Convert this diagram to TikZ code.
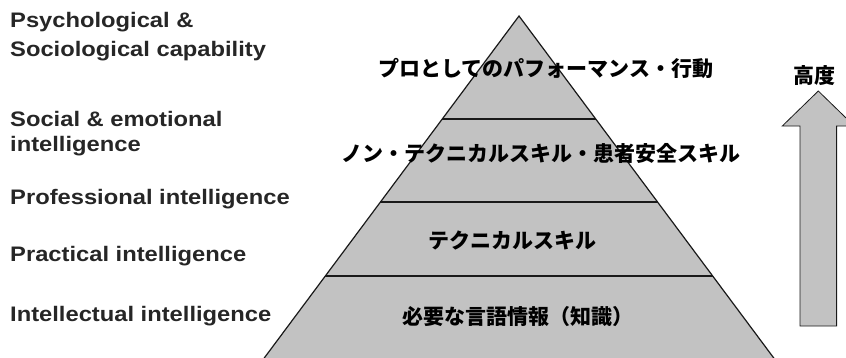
\documentclass[tikz,border=0pt]{standalone}
\usepackage{fontspec}
\setmainfont{Liberation Sans}
\newfontfamily\latf[FakeStretch=1.13]{Liberation Sans}
\newfontfamily\cjk{Noto Sans CJK JP}
\definecolor{pyrfill}{gray}{0.76}
\definecolor{txtgray}{gray}{0.15}
\begin{document}
\begin{tikzpicture}[x=1pt,y=-1pt,
  lefttext/.style={anchor=base west,inner sep=0pt,font=\latf\bfseries\fontsize{21}{21}\selectfont,text=txtgray},
  jtext/.style={inner sep=0pt,font=\cjk\bfseries\fontsize{21}{21}\selectfont,text=black},
  divider/.style={line width=1.6pt,black!90},
  outline/.style={line width=1.2pt,black!90}]
\useasboundingbox (0,0) rectangle (846,357);
\clip (0,0) rectangle (846,357);
% pyramid
\coordinate (apex) at (519,16);
\coordinate (bl) at (255.3,370);
\coordinate (br) at (782.7,370);
\fill[pyrfill] (apex) -- (br) -- (bl) -- cycle;
% dividers
\coordinate (d1l) at (442.3,119);
\coordinate (d1r) at (595.7,119);
\coordinate (d2l) at (380.4,202);
\coordinate (d2r) at (657.6,202);
\coordinate (d3l) at (325.3,276);
\coordinate (d3r) at (712.7,276);
\draw[divider] (d1l) -- (d1r);
\draw[divider] (d2l) -- (d2r);
\draw[divider] (d3l) -- (d3r);
\draw[outline,line join=miter] (bl) -- (apex) -- (br);
% pyramid texts
\node[jtext] (t1) at (546,68) {プロとしてのパフォーマンス・行動};
\node[jtext] (t2) at (541,153) {ノン・テクニカルスキル・患者安全スキル};
\node[jtext] (t3) at (512,240) {テクニカルスキル};
\node[jtext] (t4) at (517.5,317) {必要な言語情報（知識）};
% arrow
\coordinate (atip) at (818.3,91);
\fill[pyrfill,draw=black!90,line width=0.8pt]
  (atip) -- (854.3,126) -- (836.6,126) -- (836.6,326) -- (800,326) -- (800,126) -- (782.3,126) -- cycle;
\node[jtext,anchor=south] (hd) at (814,86) {高度};
% left texts
\node[lefttext] (l1) at (10,27) {Psychological \&};
\node[lefttext] (l2) at (10,56) {Sociological capability};
\node[lefttext] (l3) at (10,126) {Social \& emotional};
\node[lefttext] (l4) at (10,151) {intelligence};
\node[lefttext] (l5) at (10,204) {Professional intelligence};
\node[lefttext] (l6) at (10,261) {Practical intelligence};
\node[lefttext] (l7) at (10,321) {Intellectual intelligence};
\end{tikzpicture}
\end{document}
